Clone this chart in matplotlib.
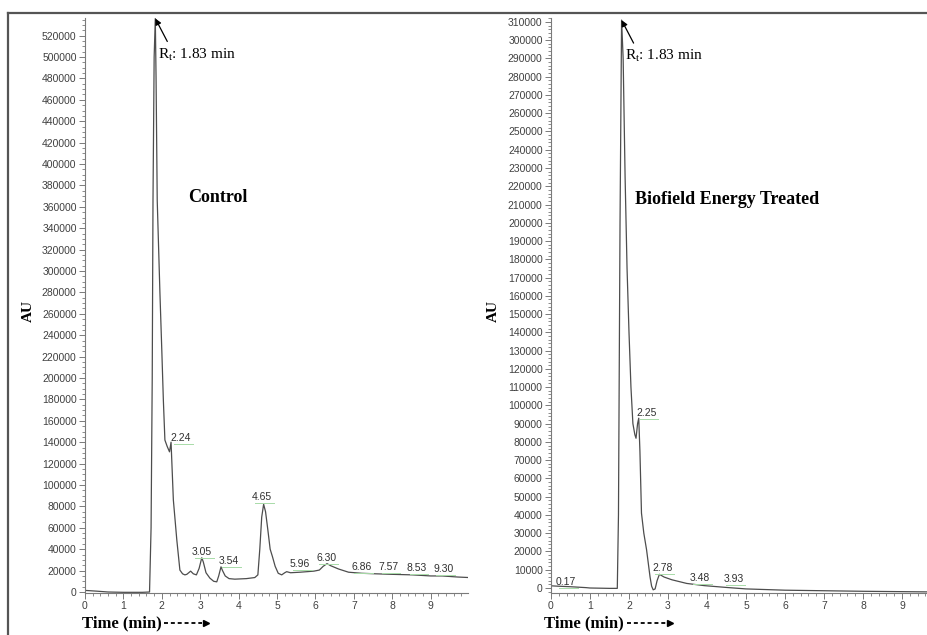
import matplotlib
matplotlib.use("Agg")
import matplotlib.pyplot as plt
import numpy as np
from matplotlib.ticker import MultipleLocator, ScalarFormatter
from matplotlib.lines import Line2D

plt.rcParams['mathtext.fontset'] = 'custom'
plt.rcParams['mathtext.rm'] = 'Liberation Serif'
plt.rcParams['mathtext.it'] = 'Liberation Serif:italic'

# ---------------- data ----------------
control_time = [0.0, 0.3, 0.6, 1.0, 1.5, 1.68, 1.72, 1.75, 1.77, 1.80, 1.83, 1.85, 1.88,
                1.95, 2.00, 2.04, 2.08, 2.14, 2.20, 2.24, 2.30, 2.39, 2.47, 2.54, 2.60,
                2.65, 2.75, 2.82, 2.90, 2.97, 3.04, 3.08, 3.15, 3.25, 3.35, 3.43, 3.48,
                3.54, 3.58, 3.65, 3.75, 3.90, 4.20, 4.42, 4.50, 4.55, 4.60, 4.65, 4.70,
                4.76, 4.82, 4.88, 4.95, 5.03, 5.12, 5.20, 5.25, 5.35, 5.60, 5.96, 6.10,
                6.20, 6.30, 6.40, 6.60, 6.86, 7.20, 7.57, 8.00, 8.53, 9.00, 9.30, 9.70,
                10.0]
control_au = [1500, 800, 0, -300, -300, 0, 60000, 200000, 366000, 500000, 536000, 480000, 366000,
              280000, 225000, 179000, 142000, 136000, 131000, 140000, 86000, 48600, 20500, 17000, 16000,
              16500, 19500, 17000, 16000, 22000, 32000, 28000, 18000, 13000, 10000, 9500, 15000,
              23500, 20000, 15000, 12500, 12000, 12500, 13500, 16000, 40000, 70000, 82000, 75000,
              58000, 40000, 33000, 24000, 17500, 16000, 18000, 19000, 18000, 18500, 19500, 20500,
              24000, 26500, 24500, 21500, 18500, 17500, 17000, 16500, 16000, 15000, 15000, 14000,
              13500]

treated_time = [0.0, 0.17, 0.5, 0.9, 1.0, 1.5, 1.70, 1.73, 1.77, 1.81, 1.85, 1.90, 1.95,
                2.00, 2.05, 2.10, 2.15, 2.18, 2.22, 2.25, 2.28, 2.32, 2.38, 2.45, 2.54,
                2.58, 2.62, 2.67, 2.72, 2.78, 2.90, 3.10, 3.48, 3.93, 4.50, 5.00, 6.00,
                7.00, 8.00, 9.00, 10.0]
treated_au = [1200, 1000, 700, 200, 0, -200, -200, 40000, 200000, 311000, 290000, 225000, 175000,
              140000, 110000, 90000, 84000, 82000, 90000, 93000, 75000, 41000, 30000, 21000, 6000,
              1000, -1000, -500, 4000, 7500, 6000, 4500, 2500, 1300, 300, -500, -1200,
              -1500, -1800, -2000, -2200]

control_labels = ["2.24", "3.05", "3.54", "4.65", "5.96", "6.30", "6.86", "7.57", "8.53", "9.30"]
treated_labels = ["0.17", "2.25", "2.78", "3.48", "3.93"]
rt_label = "R$_{\\mathrm{t}}$: 1.83 min"

# ---------------- layout (pixels) ----------------
W, H = 928, 635
fig = plt.figure(figsize=(W / 100, H / 100), dpi=100)


def fx(px):
    return px / W


def fy(py):
    return 1 - py / H


ax1 = fig.add_axes([fx(85), fy(593), 383 / W, 575 / H])
ax2 = fig.add_axes([fx(551), fy(593), 377 / W, 575 / H])

trace_color = '#4d4d4d'
tick_color = '#7a7a7a'

for ax in (ax1, ax2):
    ax.set_facecolor('none')
    for s in ('top', 'right'):
        ax.spines[s].set_visible(False)
    for s in ('left', 'bottom'):
        ax.spines[s].set_color(tick_color)
        ax.spines[s].set_linewidth(0.8)
    ax.xaxis.set_major_locator(MultipleLocator(1))
    ax.xaxis.set_minor_locator(MultipleLocator(0.2))
    ax.tick_params(which='major', length=4, width=0.7, color=tick_color,
                   labelsize=7.5, labelcolor='#404040', pad=2)
    ax.tick_params(which='minor', length=2.5, width=0.6, color=tick_color)
    fmt = ScalarFormatter(useOffset=False)
    fmt.set_scientific(False)
    ax.yaxis.set_major_formatter(fmt)

ax1.set_xlim(0, 9.97)
ax2.set_xlim(0, 9.667)
ax1.set_ylim(-935, 536450)
ax1.yaxis.set_major_locator(MultipleLocator(20000))
ax1.yaxis.set_minor_locator(MultipleLocator(5000))
ax2.set_ylim(-2738, 312150)
ax2.yaxis.set_major_locator(MultipleLocator(10000))
ax2.yaxis.set_minor_locator(MultipleLocator(2000))

for ax in (ax1, ax2):
    for lab in ax.get_xticklabels() + ax.get_yticklabels():
        lab.set_fontfamily('Liberation Sans')

ax1.plot(control_time, control_au, color=trace_color, lw=0.9)
ax2.plot(treated_time, treated_au, color=trace_color, lw=0.9)

# peak labels (positions in data coordinates)
c_lab_x = [2.50, 3.05, 3.75, 4.61, 5.60, 6.28, 7.19, 7.90, 8.64, 9.33]
c_lab_y = [144000, 37700, 29300, 88800, 26000, 32000, 23600, 23000, 22500, 21500]
t_lab_x = [0.38, 2.45, 2.85, 3.82, 4.68]
t_lab_y = [3500, 96000, 10800, 5600, 4700]

for ax, labs, xs, ys, per_px in ((ax1, control_labels, c_lab_x, c_lab_y, 934.6),
                                  (ax2, treated_labels, t_lab_x, t_lab_y, 547.6)):
    for t, x, y in zip(labs, xs, ys):
        ax.plot([x - 0.18, x + 0.30], [y - 6 * per_px, y - 6 * per_px],
                color='#a8dba8', lw=0.7)
        ax.text(x, y, t, ha='center', va='center', fontsize=7.5,
                family='Liberation Sans', color='#303030')

# Rt annotations
for ax, t, a in ((ax1, control_time, control_au), (ax2, treated_time, treated_au)):
    i = int(np.argmax(a))
    ax.annotate('', xy=(t[i], a[i]), xytext=(12, -23), textcoords='offset pixels',
                xycoords='data',
                arrowprops=dict(arrowstyle='-|>', color='black', lw=0.9,
                                mutation_scale=9, shrinkA=0, shrinkB=0),
                annotation_clip=False)
    ax.annotate(rt_label, xy=(t[i], a[i]), xytext=(3, -36), textcoords='offset pixels',
                ha='left', va='center', fontsize=11, family='Liberation Serif',
                annotation_clip=False)

# sample titles
fig.text(fx(218), fy(197), 'Control', ha='center', va='center', fontsize=13,
         fontweight='bold', family='Liberation Serif')
fig.text(fx(727), fy(199), 'Biofield Energy Treated', ha='center', va='center',
         fontsize=13, fontweight='bold', family='Liberation Serif')

# axis labels
for px in (28, 493):
    fig.text(fx(px), fy(311), 'AU', rotation=90, ha='center', va='center',
             fontsize=11, fontweight='bold', family='Liberation Serif')

for x0, a0, a1 in ((82, 164, 208), (544, 627, 672)):
    fig.text(fx(x0), fy(623), 'Time (min)', ha='left', va='center', fontsize=12,
             fontweight='bold', family='Liberation Serif')
    fig.add_artist(Line2D([fx(a0), fx(a1 - 6)], [fy(623), fy(623)],
                          transform=fig.transFigure, color='black', lw=1.3,
                          linestyle=(0, (2.2, 1.6))))
    fig.add_artist(Line2D([fx(a1 - 2)], [fy(623)], transform=fig.transFigure,
                          marker='>', markersize=5, color='black', lw=0))

# outer frame
fig.add_artist(Line2D([fx(8), 1.0], [fy(13), fy(13)], transform=fig.transFigure,
                      color='#555555', lw=1.6))
fig.add_artist(Line2D([fx(8), fx(8)], [fy(13), 0.0], transform=fig.transFigure,
                      color='#555555', lw=1.6))

fig.savefig('out.png', dpi=100)
